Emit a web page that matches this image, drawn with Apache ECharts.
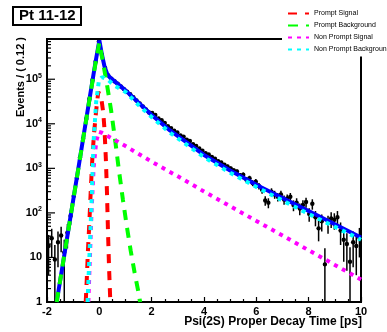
<!DOCTYPE html>
<html>
<head>
<meta charset="utf-8">
<script src="https://cdn.jsdelivr.net/npm/echarts@6/dist/echarts.min.js"></script>
<style>
  html, body { margin: 0; padding: 0; background: #fff; }
  #chart { width: 387px; height: 332px; }
</style>
</head>
<body>
<div id="chart"></div>
<script>
// Histogram binning of the proper decay time (ps)
const binLow = -2;
const binWidth = 0.12;

// Events per bin and their uncertainties
const counts = [
  18, 27, 9, 22, 31, 13, 36, 85, 240, 610,
  1750, 4600, 12800, 36000, 96000, 250000, 700000, 350000, 180000, 122000,
  103000, 90000, 79000, 69000, 60000, 52500, 46000, 39500, 33500, 28500,
  24500, 21000, 18000, 17500, 15800, 13200, 12000, 10400, 8800, 8000,
  7000, 6400, 5500, 5100, 4400, 4100, 3500, 3200, 2800, 2500,
  2200, 2050, 1800, 1650, 1450, 1350, 1200, 1100, 1000, 900,
  850, 700, 720, 560, 600, 470, 500, 400, 330, 190,
  170, 300, 260, 230, 260, 200, 210, 230, 150, 170,
  125, 150, 175, 95, 160, 80, 45, 65, 7, 60,
  75, 70, 80, 40, 25, 20, 8, 22, 18, 28
];
const errors = [
  14, 17, 10, 16, 18, 12, 20, 31, 51, 82,
  139, 225, 375, 630, 1030, 1660, 2770, 1960, 1410, 1160,
  1060, 995, 930, 870, 810, 760, 710, 660, 610, 560,
  520, 480, 445, 439, 417, 381, 363, 338, 311, 297,
  277, 265, 246, 237, 220, 212, 196, 188, 175, 166,
  156, 150, 141, 135, 126, 122, 115, 110, 105, 99,
  97, 88, 89, 78, 81, 72, 74, 66, 60, 46,
  43, 57, 53, 50, 53, 47, 48, 50, 41, 43,
  37, 41, 44, 32, 42, 30, 22, 27, 9, 26,
  29, 28, 30, 21, 17, 15, 9, 16, 14, 18
];

// Fit components, sampled along the decay time axis
const totalX = [-1.63, -1.2, -0.8, -0.4, -0.15, 0.0, 0.1, 0.2, 0.3, 0.4, 1.0, 2.0, 2.7, 4.0, 5.0, 6.2, 8.0, 10.0];
const totalY = [1, 36, 1020, 29500, 234000, 741000, 355000, 191000, 132000, 110000, 56200, 15800, 7080, 2000, 891, 372, 110, 28];

const promptSigX = [-0.52, -0.48, -0.44, -0.38, -0.32, -0.26, -0.2, -0.12, -0.04, 0.02, 0.08, 0.15, 0.2, 0.25, 0.29, 0.33, 0.37, 0.42];
const promptSigY = [1, 3.2, 12.6, 63, 400, 2000, 6300, 20000, 52500, 52500, 35500, 17800, 7100, 1580, 316, 40, 6.3, 1];

const promptBkgX = [-1.63, -1.2, -0.8, -0.4, -0.15, 0.0, 0.15, 0.3, 0.45, 0.6, 0.75, 0.9, 1.05, 1.2, 1.35, 1.5, 1.56];
const promptBkgY = [1, 36, 1000, 29000, 220000, 660000, 224000, 70800, 20000, 4470, 891, 200, 50, 14, 4.5, 1.6, 1];

const nonPromptSigX = [-0.42, -0.36, -0.3, -0.22, -0.12, -0.02, 0.1, 1.0, 2.0, 3.0, 4.0, 5.0, 6.0, 7.0, 8.0, 9.0, 10.0];
const nonPromptSigY = [1, 10, 100, 1000, 4000, 6600, 6300, 3160, 1410, 661, 302, 141, 66, 31, 14.5, 6.8, 3.2];

const nonPromptBkgX = [-0.45, -0.38, -0.3, -0.22, -0.12, -0.02, 0.1, 0.3, 0.6, 1.0, 1.5, 2.0, 2.7, 4.0, 5.0, 6.2, 8.0, 10.0];
const nonPromptBkgY = [1, 10, 160, 4000, 31600, 89000, 112000, 100000, 70800, 52000, 26300, 14100, 6310, 1780, 794, 331, 95, 25];

// Axis ranges and tick layout
const xMin = -2, xMax = 10, xStep = 2;
const yMin = 1, yMax = 8e5;
const yDecades = [1, 10, 100, 1e3, 1e4, 1e5];
const yMinorSteps = [2, 3, 4, 5, 6, 7, 8, 9];

const FONT = '"Liberation Sans", Arial, Helvetica, sans-serif';

const pairs = (xs, ys) => xs.map((x, i) => [x, ys[i]]);
const histData = counts.map((c, i) => [binLow + binWidth * (i + 0.5), c, errors[i]]);

// Left-axis ticks: long ones on the decades, short ones at 2..9 x decade
const yTicks = [];
yDecades.forEach(d => {
  yTicks.push([xMin, d, 1]);
  yMinorSteps.forEach(m => { if (d * m < yMax) yTicks.push([xMin, d * m, 0]); });
});

function renderYTick(params, api) {
  const p = api.coord([api.value(0), api.value(1)]);
  const len = api.value(2) ? 8 : 4;
  return {
    type: 'line',
    shape: { x1: p[0], y1: p[1], x2: p[0] + len, y2: p[1] },
    style: { stroke: '#000', lineWidth: 1.2 }
  };
}

function renderPoint(params, api) {
  const x = api.value(0), v = api.value(1), e = api.value(2);
  const lo = Math.max(v - e, yMin);
  const c = api.coord([x, v]);
  const pl = api.coord([x, lo]);
  const ph = api.coord([x, v + e]);
  const xl = api.coord([x - binWidth / 2, v]);
  const xr = api.coord([x + binWidth / 2, v]);
  return {
    type: 'group',
    children: [
      { type: 'line', shape: { x1: c[0], y1: ph[1], x2: c[0], y2: pl[1] }, style: { stroke: '#000', lineWidth: 1.5 } },
      { type: 'line', shape: { x1: xl[0], y1: c[1], x2: xr[0], y2: c[1] }, style: { stroke: '#000', lineWidth: 1.5 } },
      { type: 'circle', shape: { cx: c[0], cy: c[1], r: 2.2 }, style: { fill: '#000' } }
    ]
  };
}

function fitLine(name, xs, ys, color, dash) {
  return {
    name: name,
    type: 'line',
    data: pairs(xs, ys),
    symbol: 'none',
    showSymbol: false,
    clip: true,
    silent: true,
    lineStyle: { color: color, width: 4, type: dash },
    itemStyle: { color: color }
  };
}

const chart = echarts.init(document.getElementById('chart'), null, { renderer: 'canvas' });

chart.setOption({
  animation: false,
  backgroundColor: '#fff',
  title: {
    text: 'Pt 11-12',
    left: 13,
    top: 7,
    padding: [1, 6, 1, 6],
    borderColor: '#000',
    borderWidth: 2,
    textStyle: { fontSize: 15, fontWeight: 'bold', fontFamily: FONT, color: '#000', lineHeight: 16 }
  },
  legend: {
    data: ['Prompt Signal', 'Prompt Background', 'Non Prompt Signal', 'Non Prompt Background'],
    orient: 'vertical',
    left: 282,
    top: 0,
    padding: [9.5, 40, 3, 5],
    itemWidth: 21,
    itemHeight: 5,
    itemGap: 4,
    selectedMode: false,
    backgroundColor: '#fff',
    itemStyle: { opacity: 0 },
    textStyle: { fontSize: 7, fontWeight: 'normal', fontFamily: FONT, color: '#000', lineHeight: 8 }
  },
  grid: {
    left: 47, right: 26, top: 39, bottom: 30,
    show: true, borderColor: '#000', borderWidth: 2, backgroundColor: 'transparent'
  },
  xAxis: {
    type: 'value',
    min: xMin, max: xMax, interval: xStep,
    axisLine: { show: false },
    splitLine: { show: false },
    axisTick: { show: true, inside: true, length: 5, lineStyle: { color: '#000', width: 1.2 } },
    minorTick: { show: true, splitNumber: 4, length: 3, lineStyle: { color: '#000', width: 1.2 } },
    axisLabel: { color: '#000', fontSize: 11, fontWeight: 'bold', fontFamily: FONT, margin: 4 }
  },
  yAxis: {
    type: 'log',
    logBase: 10,
    min: yMin, max: yMax,
    axisLine: { show: false },
    splitLine: { show: false },
    axisTick: { show: false },
    axisLabel: {
      color: '#000',
      margin: 5,
      formatter: function (v) {
        const p = Math.log10(v), r = Math.round(p);
        if (Math.abs(p - r) > 1e-6) return '';
        if (r === 0) return '{b|1}';
        if (r === 1) return '{b|10}';
        return '{b|10}{s|' + r + '}';
      },
      rich: {
        b: { fontSize: 11, fontWeight: 'bold', fontFamily: FONT, color: '#000', lineHeight: 14 },
        s: { fontSize: 7, fontWeight: 'bold', fontFamily: FONT, color: '#000', lineHeight: 8, verticalAlign: 'top' }
      }
    }
  },
  graphic: [
    {
      type: 'text',
      x: 21, y: 37,
      rotation: Math.PI / 2,
      style: { text: 'Events / ( 0.12 )', fill: '#000', font: 'bold 11px ' + FONT, textAlign: 'right', textVerticalAlign: 'middle' }
    },
    {
      type: 'text',
      x: 362, y: 322,
      style: { text: 'Psi(2S) Proper Decay Time [ps]', fill: '#000', font: 'bold 12px ' + FONT, textAlign: 'right', textVerticalAlign: 'middle' }
    }
  ],
  series: [
    {
      name: 'Data',
      type: 'custom',
      data: histData,
      encode: { x: 0, y: 1 },
      renderItem: renderPoint,
      clip: true,
      silent: true
    },
    fitLine('Total', totalX, totalY, '#0000ff', 'solid'),
    fitLine('Prompt Signal', promptSigX, promptSigY, '#ff0000', [9, 8]),
    fitLine('Prompt Background', promptBkgX, promptBkgY, '#00ff00', [10, 8]),
    fitLine('Non Prompt Signal', nonPromptSigX, nonPromptSigY, '#ff00ff', [4, 5]),
    fitLine('Non Prompt Background', nonPromptBkgX, nonPromptBkgY, '#00ffff', [4, 5]),
    {
      name: 'yTicks',
      type: 'custom',
      data: yTicks,
      encode: { x: 0, y: 1 },
      renderItem: renderYTick,
      silent: true,
      z: 10
    }
  ]
});
</script>
</body>
</html>
